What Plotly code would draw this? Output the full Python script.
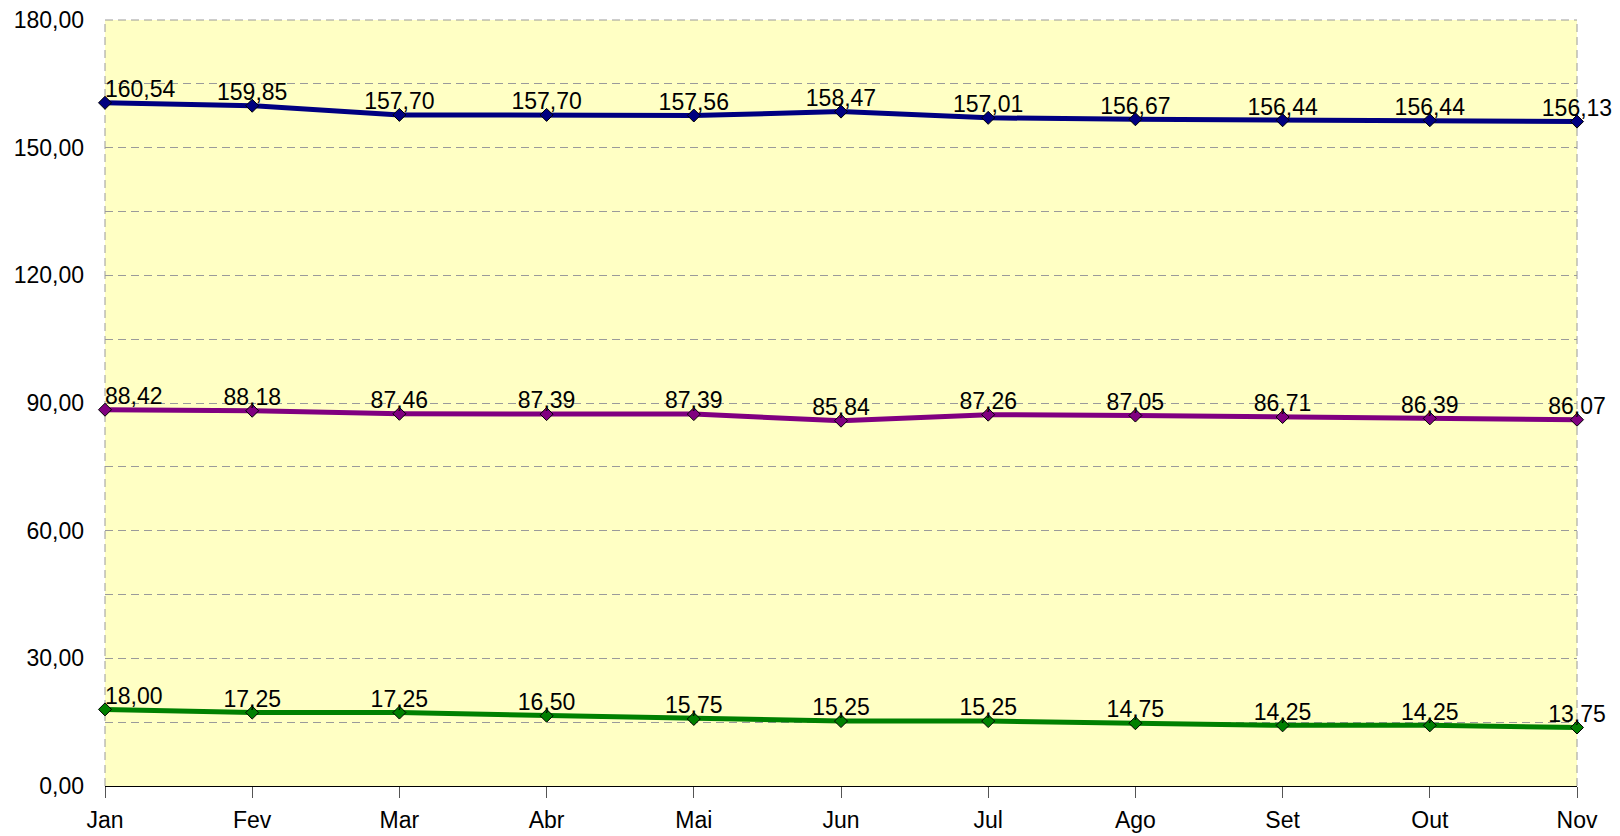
import plotly.graph_objects as go

months = ["Jan", "Fev", "Mar", "Abr", "Mai", "Jun", "Jul", "Ago", "Set", "Out", "Nov"]
serie_azul = [160.54, 159.85, 157.70, 157.70, 157.56, 158.47, 157.01, 156.67, 156.44, 156.44, 156.13]
serie_roxa = [88.42, 88.18, 87.46, 87.39, 87.39, 85.84, 87.26, 87.05, 86.71, 86.39, 86.07]
serie_verde = [18.00, 17.25, 17.25, 16.50, 15.75, 15.25, 15.25, 14.75, 14.25, 14.25, 13.75]
y_ticks = [0, 30, 60, 90, 120, 150, 180]

FONT = "Liberation Sans, Arial"
GRID = "#9a9a9a"
xs = list(range(len(months)))
fig = go.Figure()
for vals, color in [(serie_azul, "#000080"), (serie_roxa, "#800080"), (serie_verde, "#008000")]:
    fig.add_trace(go.Scatter(
        x=xs, y=vals, mode="lines+markers",
        line=dict(color=color, width=5),
        marker=dict(symbol="diamond", size=10, color=color, line=dict(color="black", width=1)),
        showlegend=False, cliponaxis=False,
    ))
for vals in [serie_azul, serie_roxa, serie_verde]:
    fig.add_trace(go.Scatter(
        x=xs, y=vals, mode="text",
        text=[f"{v:.2f}".replace(".", ",") for v in vals],
        textposition=["top right"] + ["top center"] * (len(vals) - 1),
        textfont=dict(family=FONT, size=23, color="black"),
        cliponaxis=False, showlegend=False,
    ))

fig.update_layout(
    width=1620, height=836,
    margin=dict(l=105, r=43, t=20, b=50),
    plot_bgcolor="#FFFFC4", paper_bgcolor="white",
    separators=",.",
    font=dict(family=FONT, size=23, color="black"),
    xaxis=dict(
        range=[0, len(months) - 1], tickvals=xs, ticktext=months,
        showgrid=False, zeroline=False, showline=True, linecolor="black", linewidth=1,
        ticks="outside", ticklen=11, tickcolor="#555555", tickwidth=1,
        automargin=False, ticklabelstandoff=2, ticklabeloverflow="allow",
    ),
    yaxis=dict(
        range=[0, 180], tickvals=y_ticks, tickformat=".2f",
        showgrid=True, gridcolor=GRID, griddash="8px,5px", gridwidth=1,
        minor=dict(dtick=15, showgrid=True, gridcolor=GRID, griddash="8px,5px", gridwidth=1),
        zeroline=False, showline=False, ticks="", ticklabelstandoff=20,
        automargin=False, ticklabeloverflow="allow",
    ),
    shapes=[
        dict(type="line", xref="paper", yref="paper", x0=0, x1=0, y0=0, y1=1,
             line=dict(color=GRID, width=1, dash="8px,5px"), layer="below"),
        dict(type="line", xref="paper", yref="paper", x0=1, x1=1, y0=0, y1=1,
             line=dict(color=GRID, width=1, dash="8px,5px"), layer="below"),
        dict(type="line", xref="paper", yref="paper", x0=0, x1=1, y0=1, y1=1,
             line=dict(color=GRID, width=1, dash="8px,5px"), layer="below"),
    ],
)
fig.write_html(
    "out.html",
    config={"displayModeBar": False},
    post_script="document.body.style.margin='0';document.body.style.overflow='hidden';",
)
